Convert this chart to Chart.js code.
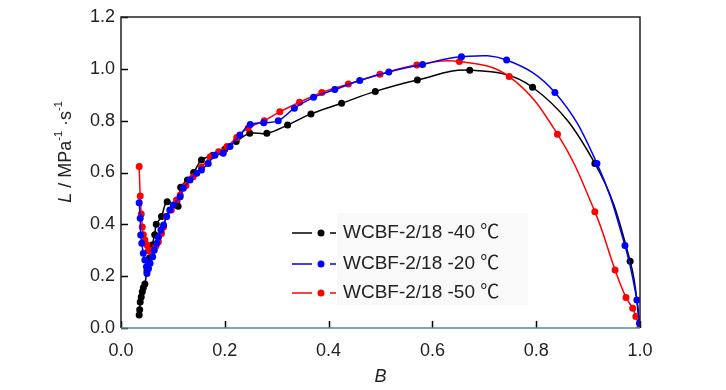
<!DOCTYPE html>
<html lang="en">
<head>
  <meta charset="UTF-8" />
  <title>L vs B</title>
  <script src="https://cdn.jsdelivr.net/npm/chart.js"></script>
  <style>
    body { margin: 0; background: #fff; }
    .wrap { width: 726px; height: 390px; }
  </style>
</head>
<body>
  <div class="wrap"><canvas id="chart" width="726" height="390"></canvas></div>

  <script>
    // series: B (x) and L (y)
    const b40 = [0.035, 0.036, 0.037, 0.039, 0.041, 0.043, 0.046, 0.050, 0.055, 0.060, 0.065, 0.068, 0.078, 0.089, 0.110, 0.115, 0.128, 0.140, 0.155, 0.177, 0.200, 0.222, 0.248, 0.281, 0.321, 0.366, 0.425, 0.490, 0.571, 0.672, 0.793, 0.913, 0.981, 1.000];
    const l40 = [0.05, 0.07, 0.10, 0.12, 0.14, 0.155, 0.17, 0.22, 0.27, 0.32, 0.36, 0.40, 0.43, 0.487, 0.47, 0.543, 0.571, 0.60, 0.648, 0.667, 0.69, 0.72, 0.751, 0.751, 0.783, 0.826, 0.867, 0.913, 0.957, 0.995, 0.929, 0.635, 0.258, 0.0];

    const b20 = [0.035, 0.037, 0.038, 0.040, 0.043, 0.046, 0.049, 0.050, 0.053, 0.056, 0.061, 0.064, 0.069, 0.072, 0.077, 0.082, 0.088, 0.094, 0.101, 0.114, 0.120, 0.133, 0.146, 0.155, 0.168, 0.181, 0.197, 0.210, 0.229, 0.249, 0.275, 0.303, 0.334, 0.371, 0.412, 0.460, 0.516, 0.581, 0.656, 0.743, 0.836, 0.917, 0.971, 0.994, 0.999];
    const l20 = [0.483, 0.423, 0.359, 0.327, 0.288, 0.262, 0.236, 0.21, 0.23, 0.25, 0.275, 0.30, 0.327, 0.35, 0.378, 0.397, 0.43, 0.455, 0.475, 0.506, 0.539, 0.571, 0.597, 0.61, 0.635, 0.667, 0.674, 0.70, 0.745, 0.785, 0.792, 0.80, 0.848, 0.89, 0.92, 0.955, 0.988, 1.017, 1.047, 1.034, 0.909, 0.635, 0.318, 0.108, 0.018];

    const b50 = [0.035, 0.037, 0.039, 0.041, 0.043, 0.046, 0.050, 0.053, 0.056, 0.062, 0.067, 0.072, 0.078, 0.082, 0.087, 0.097, 0.107, 0.114, 0.125, 0.139, 0.155, 0.172, 0.188, 0.204, 0.223, 0.245, 0.276, 0.306, 0.344, 0.387, 0.438, 0.499, 0.570, 0.652, 0.748, 0.841, 0.913, 0.952, 0.973, 0.986, 0.992, 1.000];
    const l50 = [0.623, 0.509, 0.44, 0.39, 0.36, 0.34, 0.32, 0.30, 0.295, 0.30, 0.315, 0.333, 0.365, 0.39, 0.43, 0.455, 0.494, 0.513, 0.55, 0.584, 0.62, 0.661, 0.68, 0.70, 0.735, 0.772, 0.80, 0.834, 0.871, 0.909, 0.941, 0.979, 1.015, 1.028, 0.97, 0.748, 0.449, 0.224, 0.118, 0.076, 0.044, 0.0];

    const seriesNames = ['WCBF-2/18 -40 ℃', 'WCBF-2/18 -20 ℃', 'WCBF-2/18 -50 ℃'];
    const seriesColors = ['#000000', '#0000ff', '#ff0000'];
    const xTicks = [0, 0.2, 0.4, 0.6, 0.8, 1.0];
    const yTicks = [0, 0.2, 0.4, 0.6, 0.8, 1.0, 1.2];

    const FONT = "'Liberation Sans', Arial, sans-serif";
    const LEGEND_FONT = "19px 'Liberation Sans', 'Noto Sans CJK SC', sans-serif";

    function toPoints(xs, ys) {
      return xs.map((x, i) => ({ x: x, y: ys[i] }));
    }

    function ds(idx, xs, ys) {
      return {
        label: seriesNames[idx],
        data: toPoints(xs, ys),
        showLine: true,
        borderColor: seriesColors[idx],
        backgroundColor: seriesColors[idx],
        borderWidth: 1.5,
        pointRadius: 3.5,
        pointBorderWidth: 0,
        tension: 0.4
      };
    }

    // frame, inward ticks, y title and the legend box
    const decor = {
      id: 'decor',
      afterDraw(chart) {
        const ctx = chart.ctx;
        const a = chart.chartArea;
        const xs = chart.scales.x, ys = chart.scales.y;
        ctx.save();

        // ticks pointing inward
        ctx.strokeStyle = '#000';
        ctx.lineWidth = 1.5;
        ctx.beginPath();
        yTicks.forEach(v => {
          const y = Math.round(ys.getPixelForValue(v)) + 0.5;
          ctx.moveTo(a.left, y); ctx.lineTo(a.left + 7, y);
        });
        xTicks.forEach(v => {
          const x = Math.round(xs.getPixelForValue(v)) + 0.5;
          ctx.moveTo(x, a.bottom); ctx.lineTo(x, a.bottom - 7);
        });
        ctx.stroke();

        // frame
        ctx.lineWidth = 1.5;
        ctx.strokeStyle = '#222';
        ctx.beginPath();
        ctx.moveTo(a.left, a.bottom); ctx.lineTo(a.left, a.top);
        ctx.lineTo(a.right, a.top); ctx.lineTo(a.right, a.bottom);
        ctx.stroke();
        ctx.strokeStyle = '#4f8e92';
        ctx.beginPath();
        ctx.moveTo(a.left, a.bottom); ctx.lineTo(a.right, a.bottom);
        ctx.stroke();

        // y axis title: L / MPa^-1 · s^-1
        ctx.translate(66, 152);
        ctx.rotate(-Math.PI / 2);
        ctx.fillStyle = '#222';
        ctx.textBaseline = 'middle';
        const parts = [
          { t: 'L', f: 'italic 18px ' + FONT, dy: 0 },
          { t: ' / MPa', f: '18px ' + FONT, dy: 0 },
          { t: '-1', f: '11px ' + FONT, dy: -7 },
          { t: ' ·s', f: '18px ' + FONT, dy: 0 },
          { t: '-1', f: '11px ' + FONT, dy: -7 }
        ];
        let total = 0;
        parts.forEach(p => { ctx.font = p.f; total += ctx.measureText(p.t).width; });
        let px = -total / 2;
        parts.forEach(p => {
          ctx.font = p.f;
          ctx.fillText(p.t, px, p.dy);
          px += ctx.measureText(p.t).width;
        });
        ctx.restore();

        // legend
        ctx.save();
        ctx.fillStyle = '#f9f9f9';
        ctx.fillRect(337, 213, 191, 92);
        const rows = [233, 264, 293];
        ctx.font = LEGEND_FONT;
        ctx.textBaseline = 'middle';
        rows.forEach((y, i) => {
          ctx.strokeStyle = seriesColors[i];
          ctx.fillStyle = seriesColors[i];
          ctx.lineWidth = 1.5;
          ctx.beginPath();
          ctx.moveTo(292, y); ctx.lineTo(312, y);
          ctx.moveTo(330, y); ctx.lineTo(336, y);
          ctx.stroke();
          ctx.beginPath();
          ctx.arc(321, y, 3.5, 0, Math.PI * 2);
          ctx.fill();
          ctx.fillStyle = '#222';
          ctx.fillText(seriesNames[i], 343, y);
        });
        ctx.restore();
      }
    };

    new Chart(document.getElementById('chart'), {
      type: 'scatter',
      data: {
        // blue on top, then red, then black
        datasets: [ds(1, b20, l20), ds(2, b50, l50), ds(0, b40, l40)]
      },
      options: {
        responsive: false,
        animation: false,
        layout: { padding: { left: 0, top: 17, right: 86, bottom: 0 } },
        plugins: { legend: { display: false }, tooltip: { enabled: false } },
        scales: {
          x: {
            type: 'linear',
            min: 0,
            max: 1,
            afterBuildTicks: s => { s.ticks = xTicks.map(v => ({ value: v })); },
            afterFit: s => { s.height = 62; },
            grid: { display: false, drawTicks: false },
            border: { display: false },
            ticks: {
              padding: 12,
              color: '#222',
              font: { family: FONT, size: 18 },
              callback: v => v.toFixed(1)
            },
            title: {
              display: true,
              text: 'B',
              color: '#222',
              padding: { top: 0, bottom: 2 },
              font: { family: FONT, size: 18, style: 'italic' }
            }
          },
          y: {
            type: 'linear',
            min: 0,
            max: 1.2,
            afterBuildTicks: s => { s.ticks = yTicks.map(v => ({ value: v })); },
            afterFit: s => { s.width = 121; },
            grid: { display: false, drawTicks: false },
            border: { display: false },
            ticks: {
              padding: 6,
              color: '#222',
              font: { family: FONT, size: 18 },
              callback: v => v.toFixed(1)
            }
          }
        }
      },
      plugins: [decor]
    });
  </script>
</body>
</html>
